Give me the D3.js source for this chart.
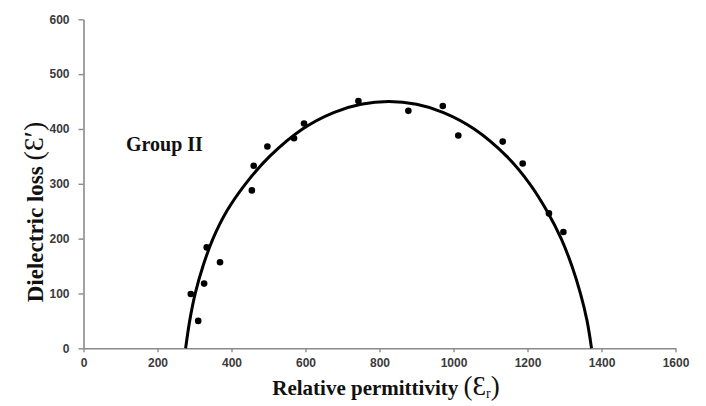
<!DOCTYPE html>
<html>
<head>
<meta charset="utf-8">
<script src="https://cdn.jsdelivr.net/npm/d3@7"></script>
<style>
html,body{margin:0;padding:0;background:#fff;}
svg{display:block;}
</style>
</head>
<body>
<svg id="chart" width="706" height="406"></svg>
<script>
// Measured data points (relative permittivity, dielectric loss)
const pointEps  = [290, 310, 326, 333, 369, 455, 460, 497, 569, 596, 743, 878, 971, 1013, 1133, 1187, 1258, 1297];
const pointLoss = [ 99,  50, 118, 184, 157, 288, 333, 368, 383, 410, 451, 433, 442,  388,  377,  337,  246,  212];

// Fitted arc
const curveEps  = [276, 287, 302, 323, 350, 387, 438, 503, 592, 676, 750, 825, 900, 973, 1056, 1144, 1206, 1253, 1291, 1320, 1343, 1361, 1373];
const curveLoss = [  0,  50, 100, 150, 200, 250, 300, 350, 400, 430, 445, 450, 445, 430,  400,  350,  300,  250,  200,  150,  100,   50,    0];

const xTicks = [0, 200, 400, 600, 800, 1000, 1200, 1400, 1600];
const yTicks = [0, 100, 200, 300, 400, 500, 600];

const svg = d3.select("#chart");
const x = d3.scaleLinear().domain([0, 1600]).range([83.5, 675.5]);
const y = d3.scaleLinear().domain([0, 600]).range([348.3, 19.3]);

const axisColor = "#8a8a8a";
const labelColor = "#3a3a3a";
const fmt = d3.format("d");

// X axis
const gx = svg.append("g").attr("transform", `translate(0,${y(0)})`)
  .call(d3.axisBottom(x).tickValues(xTicks).tickFormat(fmt).tickSize(4).tickSizeOuter(0).tickPadding(6));
gx.select(".domain").attr("stroke", axisColor).attr("stroke-width", 1.6);
gx.selectAll(".tick line").attr("stroke", axisColor).attr("stroke-width", 1.4);
gx.selectAll(".tick text").attr("fill", labelColor)
  .style("font-family", "Liberation Sans, Arial, sans-serif").style("font-size", "12px").style("font-weight", "bold");

// Y axis
const gy = svg.append("g").attr("transform", `translate(${x(0)},0)`)
  .call(d3.axisLeft(y).tickValues(yTicks).tickFormat(fmt).tickSize(5).tickSizeOuter(0).tickPadding(9));
gy.select(".domain").attr("stroke", axisColor).attr("stroke-width", 1.6);
gy.selectAll(".tick line").attr("stroke", axisColor).attr("stroke-width", 1.4);
gy.selectAll(".tick text").attr("fill", labelColor)
  .style("font-family", "Liberation Sans, Arial, sans-serif").style("font-size", "12px").style("font-weight", "bold");

// Fitted curve
const curveData = curveEps.map((e, i) => [e, curveLoss[i]]);
svg.append("path")
  .datum(curveData)
  .attr("fill", "none")
  .attr("stroke", "#000")
  .attr("stroke-width", 3)
  .attr("d", d3.line().x(d => x(d[0])).y(d => y(d[1])).curve(d3.curveCatmullRom.alpha(0.5)));

// Points
svg.append("g").selectAll("circle")
  .data(pointEps.map((e, i) => [e, pointLoss[i]]))
  .join("circle")
  .attr("cx", d => x(d[0]))
  .attr("cy", d => y(d[1]))
  .attr("r", 3.3)
  .attr("fill", "#000");

const serif = "Liberation Serif, Times New Roman, DejaVu Serif, serif";

// Group label
svg.append("text")
  .attr("x", 126).attr("y", 151)
  .style("font-family", serif).style("font-size", "20px").style("font-weight", "bold")
  .attr("fill", "#111")
  .text("Group II");

// X axis title
const xt = svg.append("text")
  .attr("x", 386).attr("y", 395)
  .attr("text-anchor", "middle")
  .style("font-family", serif).attr("fill", "#111");
xt.append("tspan").style("font-size", "21px").style("font-weight", "bold").text("Relative permittivity ");
xt.append("tspan").style("font-size", "27px").text("(Ɛ");
xt.append("tspan").style("font-size", "14px").attr("dy", 3).text("r");
xt.append("tspan").style("font-size", "27px").attr("dy", -3).text(")");

// Y axis title
const yt = svg.append("text")
  .attr("transform", "translate(43,212) rotate(-90)")
  .attr("text-anchor", "middle")
  .style("font-family", serif).attr("fill", "#111");
yt.append("tspan").style("font-size", "23px").style("font-weight", "bold").text("Dielectric loss ");
yt.append("tspan").style("font-size", "28px").text("(Ɛ′)");
</script>
</body>
</html>
